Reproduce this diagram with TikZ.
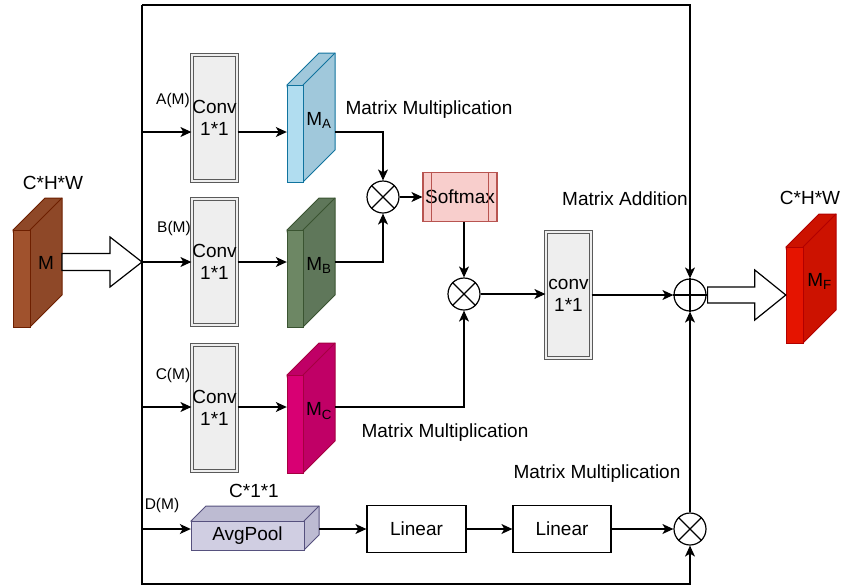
\documentclass[tikz,border=0pt]{standalone}
\usepackage{fontspec}
\setmainfont{Liberation Sans}
\usetikzlibrary{arrows.meta,calc}
\definecolor{mfront}{HTML}{A0522D}\definecolor{mside}{HTML}{8E4828}\definecolor{mstroke}{HTML}{6D1F00}
\definecolor{afront}{HTML}{B1DDF0}\definecolor{aside}{HTML}{A0C8DB}\definecolor{astroke}{HTML}{10739E}
\definecolor{bfront}{HTML}{6D8764}\definecolor{bside}{HTML}{5F775A}\definecolor{bstroke}{HTML}{3A5431}
\definecolor{cfront}{HTML}{D80073}\definecolor{cside}{HTML}{C00066}\definecolor{cstroke}{HTML}{A50040}
\definecolor{ffront}{HTML}{E51400}\definecolor{fside}{HTML}{CC1200}\definecolor{fstroke}{HTML}{B20000}
\definecolor{pfront}{HTML}{D0CEE2}\definecolor{pside}{HTML}{BDBBD2}\definecolor{pstroke}{HTML}{56517E}
\definecolor{convfill}{HTML}{EEEEEE}\definecolor{convgray}{HTML}{5A5A5A}
\definecolor{smfill}{HTML}{F8CECC}\definecolor{smstroke}{HTML}{B85450}
\newcommand{\slab}[9]{%
  \filldraw[fill=#8,draw=#9,line width=1pt] (#2,#3) -- ++(#6,-#6) -- ++(#4,0) -- ++(0,#5) -- ++(-#6,#6) -- cycle;
  \draw[draw=#9,line width=1pt] ({#2+#4},#3) -- ++(#6,-#6);
  \filldraw[fill=#7,draw=#9,line width=1pt] (#2,#3) rectangle ++(#4,#5);
  \node[inner sep=0,minimum width=#4pt,minimum height=#5pt] (#1) at ({#2+#4/2},{#3+#5/2}) {};
  \coordinate (#1r) at ({#2+#4+#6},#3);
  \coordinate (#1s) at ({#2+#4+#6/2},{#3+#5/2-#6/2});
}
\tikzset{
  lab/.style={font=\fontsize{19}{22}\selectfont, inner sep=0},
  sml/.style={font=\fontsize{15.5}{18}\selectfont, inner sep=0},
  conv/.style={draw=convgray, fill=convfill, double=convfill, double distance=2pt, line width=1.2pt,
    minimum width=45pt, minimum height=126pt, inner sep=0, align=center, font=\fontsize{19}{22}\selectfont},
  mcirc/.style={circle, draw, fill=white, line width=1.2pt, minimum size=32pt, inner sep=0},
  box/.style={draw, line width=1.2pt, minimum height=47pt, inner sep=0, font=\fontsize{19}{22}\selectfont},
  arr/.style={line width=1.2pt, -{Stealth[length=11pt,width=10pt,inset=3pt]}},
  barrow/.style={draw, fill=white, line width=1.2pt, line join=miter}
}
\begin{document}
\begin{tikzpicture}[x=1pt,y=-1pt]
\useasboundingbox (0,0) rectangle (844,587);
% frame coordinates and rows
\coordinate (tl) at (142,5);
\coordinate (bl) at (142,584);
\coordinate (rA) at (142,132);
\coordinate (rB) at (142,262);
\coordinate (rC) at (142,407);
\coordinate (rD) at (142,529);
% slabs
\slab{M}{13}{230}{17}{97}{32}{mfront}{mside}{mstroke}
\slab{MA}{287}{85}{16}{97}{32}{afront}{aside}{astroke}
\slab{MB}{287}{230}{16}{97}{32}{bfront}{bside}{bstroke}
\slab{MC}{287}{375}{16}{98}{32}{cfront}{cside}{cstroke}
\slab{MF}{786}{247}{17}{96}{33}{ffront}{fside}{fstroke}
\slab{AP}{191}{521}{113}{29}{15}{pfront}{pside}{pstroke}
\node[lab] at (Ms) {M};
\node[lab] at ([yshift=-3pt]MAs) {M\textsubscript{A}};
\node[lab] at ([yshift=-3pt]MBs) {M\textsubscript{B}};
\node[lab] at ([yshift=-3pt]MCs) {M\textsubscript{C}};
\node[lab] at ([yshift=-3pt]MFs) {M\textsubscript{F}};
\node[lab] at (AP) {AvgPool};
% conv boxes
\node[conv] (cA) at (214.5,118) {Conv\\1*1};
\node[conv] (cB) at (214.5,262) {Conv\\1*1};
\node[conv] (cC) at (214.5,408) {Conv\\1*1};
\node[conv] (c2) at (568.5,295) {conv\\1*1};
% softmax
\node[draw=smstroke, fill=smfill, line width=1.1pt, minimum width=74pt, minimum height=49pt, inner sep=0,
  font=\fontsize{19}{22}\selectfont] (sm) at (460,197) {Softmax};
\draw[smstroke, line width=1.1pt] ([xshift=9pt]sm.north west) -- ([xshift=9pt]sm.south west)
  ([xshift=-9pt]sm.north east) -- ([xshift=-9pt]sm.south east);
% linear
\node[box, minimum width=99pt] (L1) at (416.5,529) {Linear};
\node[box, minimum width=98pt] (L2) at (562,529) {Linear};
% operators
\node[mcirc] (ox1) at (383,197) {};
\node[mcirc] (ox2) at (464,294) {};
\node[mcirc] (op) at (690,295) {};
\node[mcirc] (ox3) at (690,529) {};
% frame lines
\draw[arr] (tl) -- (tl -| op) -- (op.north);
\draw[arr] (tl) -- (bl) -- (bl -| ox3) -- (ox3.south);
\draw[arr] (ox3.north) -- (op.south);
% row A
\draw[arr] (rA) -- (rA -| cA.west);
\draw[arr] (rA -| cA.east) -- (rA -| MA.west);
\draw[arr] (rA -| MAr) -- (rA -| ox1) -- (ox1.north);
% row B
\draw[arr] (rB) -- (rB -| cB.west);
\draw[arr] (rB -| cB.east) -- (rB -| MB.west);
\draw[arr] (rB -| MBr) -- (rB -| ox1) -- (ox1.south);
% row C
\draw[arr] (rC) -- (rC -| cC.west);
\draw[arr] (rC -| cC.east) -- (rC -| MC.west);
\draw[arr] (rC -| MCr) -- (rC -| ox2) -- (ox2.south);
% row D
\draw[arr] (rD) -- (rD -| AP.west);
\draw[arr] (rD -| APr) -- (rD -| L1.west);
\draw[arr] (L1.east) -- (L2.west);
\draw[arr] (L2.east) -- (ox3.west);
% middle
\draw[arr] (ox1.east) -- (ox1.east -| sm.west);
\draw[arr] (ox2 |- sm.south) -- (ox2.north);
\draw[arr] (ox2.east) -- (ox2.east -| c2.west);
\draw[arr] (c2.east |- op) -- (op.west);
% operator symbols
\draw[line width=1.2pt] (ox1.north east) -- (ox1.south west) (ox1.north west) -- (ox1.south east);
\draw[line width=1.2pt] (ox2.north east) -- (ox2.south west) (ox2.north west) -- (ox2.south east);
\draw[line width=1.2pt] (ox3.north east) -- (ox3.south west) (ox3.north west) -- (ox3.south east);
\draw[line width=1.2pt] (op.north) -- (op.south) (op.west) -- (op.east);
% block arrows
\coordinate (inS) at ($(Mr |- rB)$);
\draw[barrow] ($(inS)+(0,-8.5)$) -- ($(rB)+(-32,-8.5)$) -- ($(rB)+(-32,-25)$) -- (rB)
  -- ($(rB)+(-32,25)$) -- ($(rB)+(-32,8.5)$) -- ($(inS)+(0,8.5)$) -- cycle;
\coordinate (outS) at ($(op.east)+(1,0)$);
\coordinate (outT) at (MF.west |- op);
\draw[barrow] ($(outS)+(0,-8)$) -- ($(outT)+(-31,-8)$) -- ($(outT)+(-31,-25)$) -- (outT)
  -- ($(outT)+(-31,25)$) -- ($(outT)+(-31,8)$) -- ($(outS)+(0,8)$) -- cycle;
% labels
\node[lab] at (53,183) {C*H*W};
\node[lab] at (810,198) {C*H*W};
\node[sml] at (173,100) {A(M)};
\node[sml] at (174,228) {B(M)};
\node[sml] at (173,375) {C(M)};
\node[sml] at (162,505) {D(M)};
\node[lab] at (254,491) {C*1*1};
\node[lab] at (429,110) {Matrix Multiplication};
\node[lab] at (445,433) {Matrix Multiplication};
\node[lab] at (597,474) {Matrix Multiplication};
\node[lab] at (625,199) {Matrix Addition};
\end{tikzpicture}
\end{document}
